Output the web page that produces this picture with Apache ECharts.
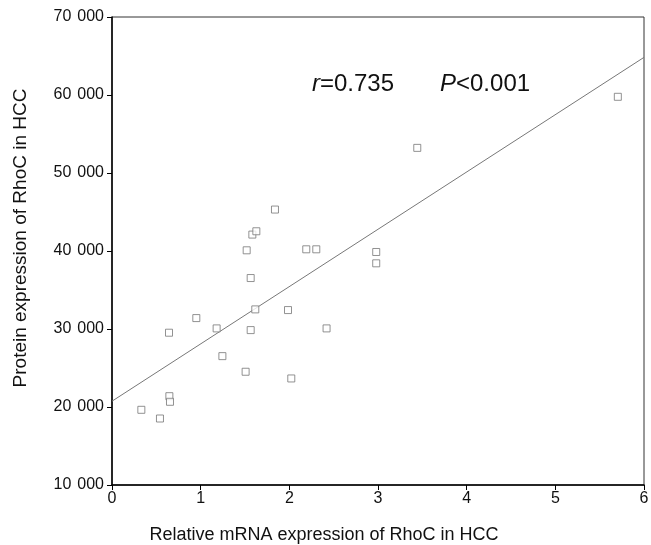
<!DOCTYPE html>
<html>
<head>
<meta charset="utf-8">
<script src="https://cdn.jsdelivr.net/npm/echarts@6/dist/echarts.min.js"></script>
<style>html,body{margin:0;padding:0;background:#fff;}#c{width:651px;height:545px;}</style>
</head>
<body>
<div id="c"></div>
<script>
var mrna = [0.643,0.951,1.18,1.245,1.507,1.564,1.616,1.564,1.519,1.583,1.628,1.838,1.985,2.022,2.191,2.304,2.42,2.98,2.98,0.331,0.541,0.647,0.654,3.443,5.705];
var protein = [29525,31399,30077,26521,24519,29859,32516,36534,40090,42105,42529,45314,32426,23659,40218,40218,30077,39872,38421,19641,18524,21387,20668,53222,59769];
var fitX = [0, 6];
var fitY = [20745, 64827];
var xTicks = [0,1,2,3,4,5,6];
var yTicks = [10000,20000,30000,40000,50000,60000,70000];
var xTitle = 'Relative mRNA expression of RhoC in HCC';
var yTitle = 'Protein expression of RhoC in HCC';

var pts = mrna.map(function(v,i){return [v, protein[i]];});
var fit = fitX.map(function(v,i){return [v, fitY[i]];});
var ff = '"Liberation Sans", Arial, Helvetica, sans-serif';
var chart = echarts.init(document.getElementById('c'));
chart.setOption({
  animation: false,
  grid: {left:112, right:7, top:17, bottom:60, containLabel:false, outerBoundsMode:'none', show:true, borderColor:'#333', borderWidth:1},
  xAxis: {
    type:'value', min:0, max:6, interval:1,
    axisLine:{lineStyle:{color:'#000', width:1.5}},
    axisTick:{length:5, lineStyle:{color:'#000'}},
    axisLabel:{fontFamily:ff, fontSize:16, color:'#111', margin:6, formatter:function(v){return xTicks.indexOf(v)>=0?String(v):'';}},
    splitLine:{show:false}
  },
  yAxis: {
    type:'value', min:10000, max:70000, interval:10000,
    axisLine:{lineStyle:{color:'#000', width:1.5}},
    axisTick:{length:5, lineStyle:{color:'#000'}},
    axisLabel:{fontFamily:ff, fontSize:16, color:'#111', margin:8,
      rich:{a:{fontFamily:ff, fontSize:16, color:'#111'}, b:{fontFamily:ff, fontSize:16, color:'#111', padding:[0,0,0,6]}},
      formatter:function(v){
        if (yTicks.indexOf(v)<0) return '';
        var s=String(v); return '{a|'+s.slice(0,s.length-3)+'}{b|'+s.slice(-3)+'}';}},
    splitLine:{show:false}
  },
  graphic: [
    {type:'text', x:312, y:96, style:{
      rich:{
        i:{fontFamily:ff, fontSize:24, fontStyle:'italic', fill:'#111'},
        n:{fontFamily:ff, fontSize:24, fill:'#111'}
      },
      text:'{i|r}{n|=0.735}', textVerticalAlign:'bottom'}},
    {type:'text', x:440, y:96, style:{
      rich:{
        i:{fontFamily:ff, fontSize:24, fontStyle:'italic', fill:'#111'},
        n:{fontFamily:ff, fontSize:24, fill:'#111'}
      },
      text:'{i|P}{n|<0.001}', textVerticalAlign:'bottom'}},
    {type:'text', x:324, y:535, style:{text:xTitle, fontFamily:ff, fontSize:18, fill:'#111', textAlign:'center', textVerticalAlign:'middle'}},
    {type:'text', x:21, y:238, rotation:Math.PI/2, style:{text:yTitle, fontFamily:ff, fontSize:19, fill:'#111', textAlign:'center', textVerticalAlign:'middle'}}
  ],
  series: [
    {type:'line', data:fit, symbol:'none', lineStyle:{color:'#777', width:1}, z:1},
    {type:'scatter', data:pts, symbol:'rect', symbolSize:7,
     itemStyle:{color:'#fff', borderColor:'#777', borderWidth:1}, z:2}
  ]
});
</script>
</body>
</html>
